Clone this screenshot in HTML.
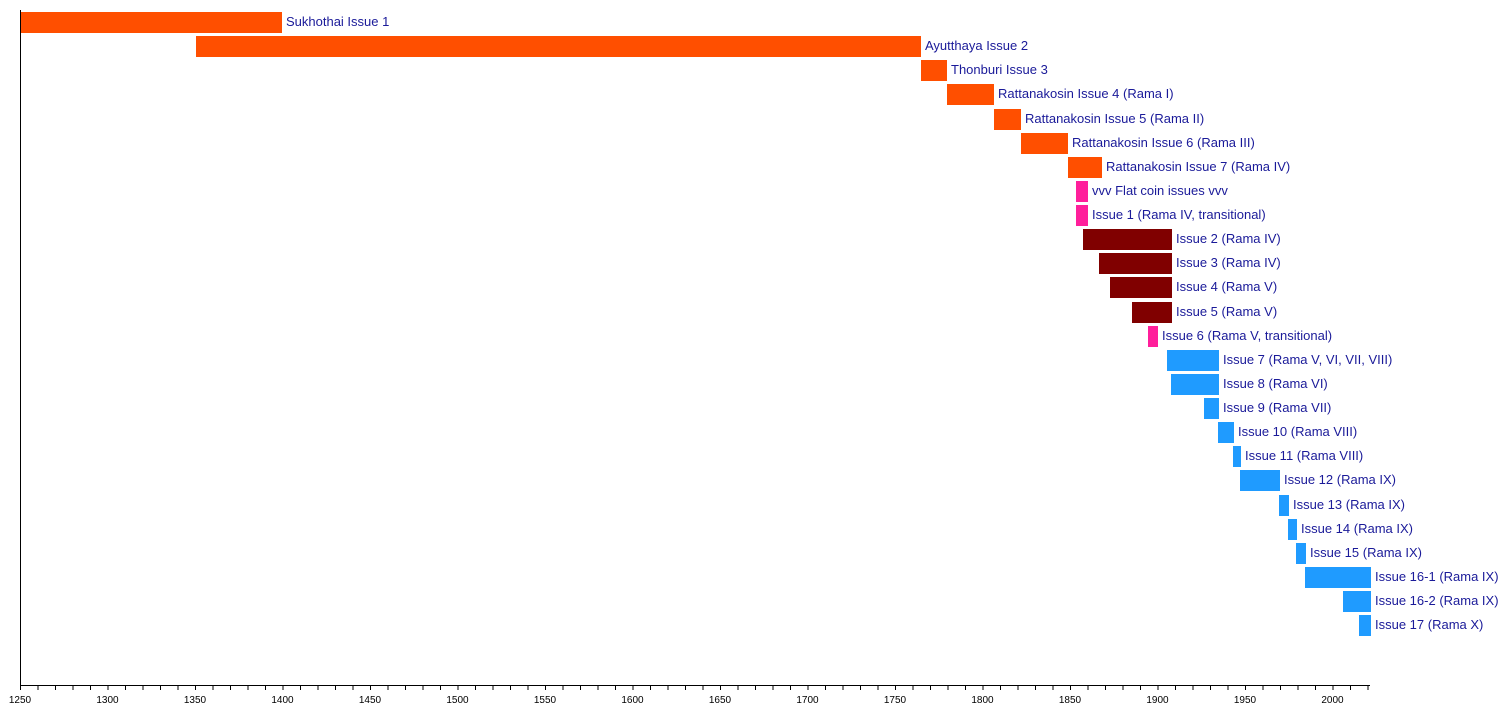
<!DOCTYPE html><html><head><meta charset="utf-8"><style>body{margin:0;background:#fff}svg text{font-family:"Liberation Sans",sans-serif}</style></head><body>
<svg width="1500" height="715" xmlns="http://www.w3.org/2000/svg">
<defs><pattern id="tk" x="20" y="0" width="17.5" height="10" patternUnits="userSpaceOnUse"><rect x="0" y="0" width="1" height="10" fill="#000"/></pattern></defs>
<g>
<rect x="20" y="12" width="262" height="21" fill="#ff4f00"/>
<rect x="196" y="36" width="725" height="21" fill="#ff4f00"/>
<rect x="921" y="60" width="26" height="21" fill="#ff4f00"/>
<rect x="947" y="84" width="47" height="21" fill="#ff4f00"/>
<rect x="994" y="109" width="27" height="21" fill="#ff4f00"/>
<rect x="1021" y="133" width="47" height="21" fill="#ff4f00"/>
<rect x="1068" y="157" width="34" height="21" fill="#ff4f00"/>
<rect x="1076" y="181" width="12" height="21" fill="#ff1f9b"/>
<rect x="1076" y="205" width="12" height="21" fill="#ff1f9b"/>
<rect x="1083" y="229" width="89" height="21" fill="#800000"/>
<rect x="1099" y="253" width="73" height="21" fill="#800000"/>
<rect x="1110" y="277" width="62" height="21" fill="#800000"/>
<rect x="1132" y="302" width="40" height="21" fill="#800000"/>
<rect x="1148" y="326" width="10" height="21" fill="#ff1f9b"/>
<rect x="1167" y="350" width="52" height="21" fill="#1f9bff"/>
<rect x="1171" y="374" width="48" height="21" fill="#1f9bff"/>
<rect x="1204" y="398" width="15" height="21" fill="#1f9bff"/>
<rect x="1218" y="422" width="16" height="21" fill="#1f9bff"/>
<rect x="1233" y="446" width="8" height="21" fill="#1f9bff"/>
<rect x="1240" y="470" width="40" height="21" fill="#1f9bff"/>
<rect x="1279" y="495" width="10" height="21" fill="#1f9bff"/>
<rect x="1288" y="519" width="9" height="21" fill="#1f9bff"/>
<rect x="1296" y="543" width="10" height="21" fill="#1f9bff"/>
<rect x="1305" y="567" width="66" height="21" fill="#1f9bff"/>
<rect x="1343" y="591" width="28" height="21" fill="#1f9bff"/>
<rect x="1359" y="615" width="12" height="21" fill="#1f9bff"/>
</g>
<g font-size="13" fill="#1a1a99">
<text x="286" y="26">Sukhothai Issue 1</text>
<text x="925" y="50">Ayutthaya Issue 2</text>
<text x="951" y="74">Thonburi Issue 3</text>
<text x="998" y="98">Rattanakosin Issue 4 (Rama I)</text>
<text x="1025" y="123">Rattanakosin Issue 5 (Rama II)</text>
<text x="1072" y="147">Rattanakosin Issue 6 (Rama III)</text>
<text x="1106" y="171">Rattanakosin Issue 7 (Rama IV)</text>
<text x="1092" y="195">vvv Flat coin issues vvv</text>
<text x="1092" y="219">Issue 1 (Rama IV, transitional)</text>
<text x="1176" y="243">Issue 2 (Rama IV)</text>
<text x="1176" y="267">Issue 3 (Rama IV)</text>
<text x="1176" y="291">Issue 4 (Rama V)</text>
<text x="1176" y="316">Issue 5 (Rama V)</text>
<text x="1162" y="340">Issue 6 (Rama V, transitional)</text>
<text x="1223" y="364">Issue 7 (Rama V, VI, VII, VIII)</text>
<text x="1223" y="388">Issue 8 (Rama VI)</text>
<text x="1223" y="412">Issue 9 (Rama VII)</text>
<text x="1238" y="436">Issue 10 (Rama VIII)</text>
<text x="1245" y="460">Issue 11 (Rama VIII)</text>
<text x="1284" y="484">Issue 12 (Rama IX)</text>
<text x="1293" y="509">Issue 13 (Rama IX)</text>
<text x="1301" y="533">Issue 14 (Rama IX)</text>
<text x="1310" y="557">Issue 15 (Rama IX)</text>
<text x="1375" y="581">Issue 16-1 (Rama IX)</text>
<text x="1375" y="605">Issue 16-2 (Rama IX)</text>
<text x="1375" y="629">Issue 17 (Rama X)</text>
</g>
<line x1="20.5" y1="10" x2="20.5" y2="685.5" stroke="#000"/>
<line x1="20" y1="685.5" x2="1370" y2="685.5" stroke="#000"/>
<rect x="20" y="685" width="1351" height="5" fill="url(#tk)"/>
<g font-size="10" fill="#000" text-anchor="middle">
<text x="20" y="703">1250</text><text x="107.5" y="703">1300</text><text x="195" y="703">1350</text><text x="282.5" y="703">1400</text><text x="370" y="703">1450</text><text x="457.5" y="703">1500</text><text x="545" y="703">1550</text><text x="632.5" y="703">1600</text><text x="720" y="703">1650</text><text x="807.5" y="703">1700</text><text x="895" y="703">1750</text><text x="982.5" y="703">1800</text><text x="1070" y="703">1850</text><text x="1157.5" y="703">1900</text><text x="1245" y="703">1950</text><text x="1332.5" y="703">2000</text>
</g>
</svg></body></html>
